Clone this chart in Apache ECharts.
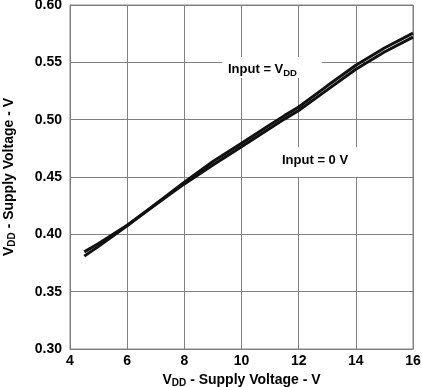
<!DOCTYPE html>
<html><head><meta charset="utf-8">
<script src="https://cdn.jsdelivr.net/npm/echarts@6/dist/echarts.min.js"></script>
<style>html,body{margin:0;padding:0;background:#fff}#c{width:422px;height:387px}</style>
</head><body><div id="c"></div>
<script>
const xVals = [4.5, 5, 6, 7, 8, 9, 10, 11, 11.5, 12, 13, 14, 15, 16];
const inputVdd = [0.381, 0.3895, 0.4075, 0.4265, 0.4455, 0.4635, 0.4795, 0.4955, 0.5035, 0.511, 0.5295, 0.5475, 0.5625, 0.5755];
const input0V = [0.3847, 0.392, 0.408, 0.426, 0.444, 0.4605, 0.4765, 0.4925, 0.5005, 0.508, 0.526, 0.544, 0.559, 0.572];
const xTicks = [4, 6, 8, 10, 12, 14, 16];
const yTicks = [0.30, 0.35, 0.40, 0.45, 0.50, 0.55, 0.60];

const FONT = '"Liberation Sans", Arial, sans-serif';
const chart = echarts.init(document.getElementById('c'), null, {renderer: 'canvas'});
const nameRich = {
  v: {fontFamily: FONT, fontWeight: 'bold', fontSize: 14, color: '#000'},
  s: {fontFamily: FONT, fontWeight: 'bold', fontSize: 10, color: '#000', verticalAlign: 'bottom', padding: [6, 0, 0, 0]}
};
const axisName = '{v|V}{s|DD}{v| - Supply Voltage - V}';
chart.setOption({
  animation: false,
  grid: {left: 70, right: 9, top: 5, bottom: 38, show: true, borderColor: '#808080', borderWidth: 1,
    containLabel: false, outerBoundsMode: 'none'},
  xAxis: {
    type: 'value', min: xTicks[0], max: xTicks[xTicks.length - 1], interval: 2,
    name: axisName, nameLocation: 'middle', nameGap: 22,
    nameTextStyle: {rich: nameRich},
    axisLine: {show: true, lineStyle: {color: '#808080', width: 1}},
    axisTick: {show: false},
    splitLine: {show: true, lineStyle: {color: '#808080', width: 1}},
    axisLabel: {color: '#000', fontFamily: FONT, fontWeight: 'bold', fontSize: 14, margin: 5}
  },
  yAxis: {
    type: 'value', min: yTicks[0], max: yTicks[yTicks.length - 1], interval: 0.05,
    name: axisName, nameLocation: 'middle', nameGap: 53,
    nameTextStyle: {rich: nameRich},
    axisLine: {show: true, lineStyle: {color: '#808080', width: 1}},
    axisTick: {show: false},
    splitLine: {show: true, lineStyle: {color: '#808080', width: 1}},
    axisLabel: {color: '#000', fontFamily: FONT, fontWeight: 'bold', fontSize: 14, margin: 8,
      formatter: v => v.toFixed(2)}
  },
  series: [
    {type: 'line', name: 'Input = VDD', data: xVals.map((x, i) => [x, inputVdd[i]]),
      symbol: 'none', smooth: false, lineStyle: {color: '#111', width: 3}, z: 3},
    {type: 'line', name: 'Input = 0 V', data: xVals.map((x, i) => [x, input0V[i]]),
      symbol: 'none', smooth: false, lineStyle: {color: '#111', width: 3}, z: 3}
  ],
  graphic: [
    {type: 'rect', shape: {x: 222, y: 57, width: 100, height: 21}, style: {fill: '#fff'}, z: 10},
    {type: 'text', x: 228, y: 61, z: 11, style: {
      text: '{v|Input = V}{s|DD}', rich: {
        v: {fontFamily: FONT, fontWeight: 'bold', fontSize: 13, fill: '#000'},
        s: {fontFamily: FONT, fontWeight: 'bold', fontSize: 9.5, fill: '#000', verticalAlign: 'bottom', padding: [7, 0, 0, 0]}
      }}},
    {type: 'rect', shape: {x: 275, y: 147, width: 84, height: 30}, style: {fill: '#fff'}, z: 10},
    {type: 'text', x: 282, y: 154, z: 11, style: {
      text: 'Input = 0 V', fontFamily: FONT, fontWeight: 'bold', fontSize: 13, fill: '#000'}}
  ]
});
</script></body></html>
